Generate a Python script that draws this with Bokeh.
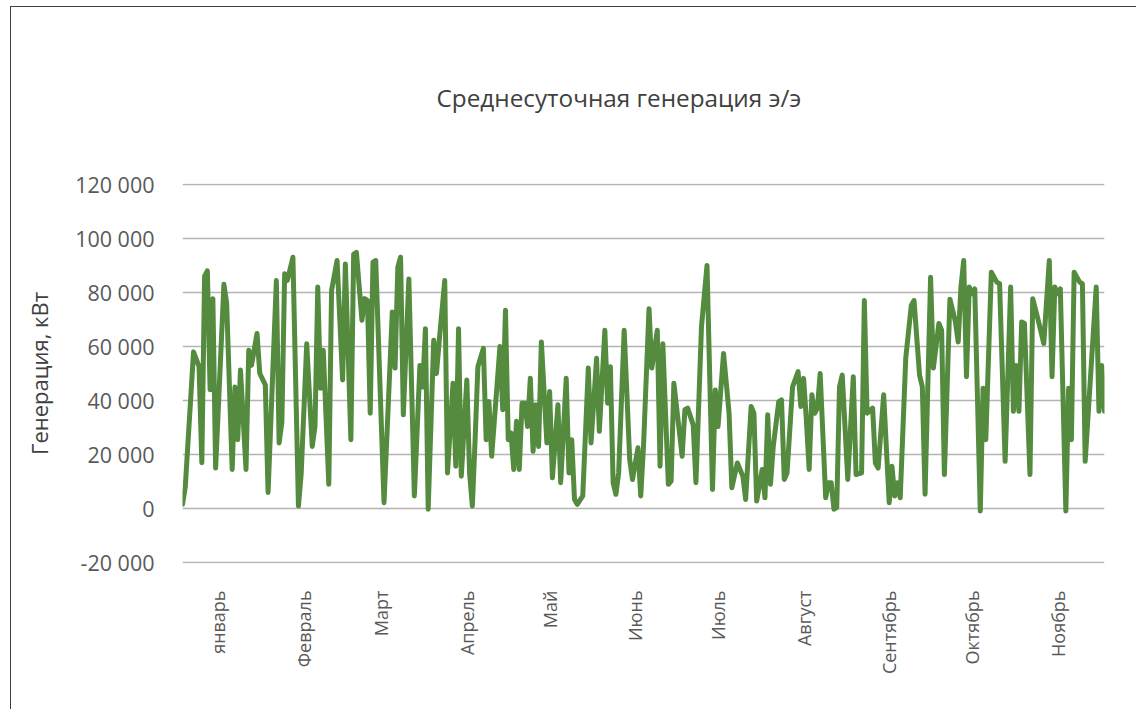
import math
from bokeh.plotting import figure
from bokeh.models import Range1d, FixedTicker, Title
from bokeh.embed import file_html
from bokeh.resources import INLINE

# Day index (0 = 1 January) and daily mean generation, kW
days = [0, 1, 4, 6, 7, 8, 9, 10, 11, 12, 15, 16, 18, 19, 20, 21, 23, 24, 25, 27, 28, 30, 31,
        34, 35, 36, 37, 38, 40, 42, 43, 45, 47, 48, 49, 50, 51, 53, 54, 56, 58, 59, 61, 62,
        63, 65, 66, 67, 68, 69, 70, 73, 76, 77, 78, 79, 80, 82, 84, 86, 87, 88, 89, 91, 92,
        93, 95, 96, 98, 99, 100, 101, 103, 104, 105, 106, 107, 109, 110, 111, 112, 115, 116,
        117, 118, 119, 120, 121, 122, 123, 124, 125, 126, 127, 128, 129, 130, 132, 133, 134,
        136, 137, 139, 140, 141, 142, 143, 145, 147, 148, 150, 151, 153, 154, 155, 156, 157,
        158, 160, 162, 163, 165, 166, 167, 169, 170, 172, 173, 174, 176, 177, 178, 181, 182,
        183, 185, 186, 188, 190, 192, 193, 194, 196, 198, 199, 201, 203, 204, 206, 207, 208,
        210, 211, 212, 213, 214, 216, 217, 218, 219, 221, 223, 224, 225, 226, 227, 228, 229,
        230, 231, 233, 234, 235, 236, 237, 238, 239, 241, 243, 244, 246, 247, 248, 250, 251,
        252, 254, 256, 257, 258, 259, 260, 262, 264, 265, 267, 268, 269, 271, 272, 274, 275,
        276, 278, 280, 281, 282, 283, 284, 285, 286, 287, 289, 290, 291, 293, 295, 296, 298,
        300, 301, 302, 303, 304, 305, 307, 308, 310, 312, 314, 315, 316, 317, 318, 320, 321,
        322, 323, 325, 326, 327, 331, 332, 333, 334]

generation = [1600, 8000, 58000, 52500, 17000, 86000, 88000, 44000, 77700, 15000, 83000, 76000,
              14500, 45000, 25500, 51300, 14500, 58600, 53000, 64800, 50000, 45800, 6000,
              84400, 24300, 32000, 86900, 84400, 93000, 1000, 13000, 61000, 23000, 30400, 82000,
              44500, 58600, 9000, 80700, 91800, 47600, 90500, 25500, 94200,
              94800, 69700, 77700, 77000, 35300, 91200, 91800, 2200, 72800, 52000, 89300, 93000,
              34700, 85000, 4700, 53000, 45000, 66600, -200, 62300, 50000,
              62000, 84400, 13200, 46400, 15700, 66600, 12000, 47600, 13200, 1000, 25500, 52500,
              59300, 25500, 39600, 19400, 60000, 36600,
              73400, 25500, 28000, 14500, 32300, 14500, 39000, 39000, 30400, 48200, 21200, 38400,
              23000, 61700, 24300, 43300, 11400,
              38400, 9600, 48200, 13200, 25500, 3400, 1600, 4700, 52000, 24300, 55600, 28600,
              66000, 39000, 52500, 9600, 5300,
              13200, 66000, 18200, 10800, 22500, 4700, 23000, 74000, 52000, 66000, 15700, 61000,
              9000, 10200, 46400, 19400, 36600,
              37200, 31000, 9600, 67200, 90000, 7100, 43900, 30400, 57400, 35300, 7700, 16900,
              12000, 3400, 37800, 35300, 2800,
              14500, 4000, 34700, 9000, 23000, 39600, 40200, 10800, 13200, 45100, 50700, 37800,
              48200, 32900, 14500, 42100, 35300,
              37200, 50000, 4000, 9600, 9600, -200, 400, 45100, 49400, 10800, 48800, 12600, 13200,
              77000, 35300, 37200, 16900,
              15000, 42100, 2200, 15700, 4700, 9600, 4000, 55600, 75200, 77000, 49400, 45100,
              5300, 85600, 52000, 68500, 66000,
              12600, 77500, 69100, 61700, 82000, 91800, 48800, 82000, 79500, 81300, -900, 44500,
              25500, 87500, 83800, 83200, 17500,
              82000, 36000, 53000, 36000, 69100, 68500, 12600, 77700, 69700, 61100, 91800, 48800,
              82000, 79500, 81300, -900, 44500,
              25500, 87500, 83800, 83200, 17500, 82000, 36000, 53000, 36000]

months = ["январь", "Февраль", "Март", "Апрель", "Май", "Июнь", "Июль", "Август",
          "Сентябрь", "Октябрь", "Ноябрь"]
month_lengths = [31, 28, 31, 30, 31, 30, 31, 31, 30, 31, 30]

y_ticks = [-20000, 0, 20000, 40000, 60000, 80000, 100000, 120000]
y_tick_labels = ["-20 000", "0", "20 000", "40 000", "60 000", "80 000", "100 000", "120 000"]

title_text = "Среднесуточная генерация э/э"
y_axis_title = "Генерация, кВт"

FONT = "Open Sans"

# mid-month tick positions
month_starts = [sum(month_lengths[:i]) for i in range(len(month_lengths))]
mid_month = [s + 13 for s in month_starts]

p = figure(width=1126, height=703, output_backend="svg", toolbar_location=None,
           x_range=Range1d(0, 334), y_range=Range1d(-20300, 120300),
           min_border_left=171, min_border_right=33, min_border_top=176, min_border_bottom=147,
           styles={"border-left": "1px solid #3f3f3f", "border-top": "1px solid #3f3f3f",
                   "margin-left": "10px", "margin-top": "6px"})
p.outline_line_color = None
p.background_fill_color = "white"
p.border_fill_color = "white"

t = Title(text=title_text, align="left", offset=254, text_font=FONT,
          text_font_size="24.3px", text_font_style="normal", text_color="#404040",
          standoff=140)
p.add_layout(t, "above")

p.line(days, generation, line_color="#548b3f", line_width=5, line_join="round",
       line_cap="round")

# y axis
p.yaxis.ticker = FixedTicker(ticks=y_ticks)
p.yaxis.major_label_overrides = {v: s for v, s in zip(y_ticks, y_tick_labels)}
p.yaxis.axis_line_color = None
p.yaxis.major_tick_line_color = None
p.yaxis.minor_tick_line_color = None
p.yaxis.major_label_standoff = 22
p.yaxis.major_label_text_font = FONT
p.yaxis.major_label_text_font_size = "21.5px"
p.yaxis.major_label_text_color = "#595959"
p.yaxis.axis_label = y_axis_title
p.yaxis.axis_label_text_font = FONT
p.yaxis.axis_label_text_font_size = "22px"
p.yaxis.axis_label_text_font_style = "normal"
p.yaxis.axis_label_text_color = "#404040"
p.yaxis.axis_label_standoff = 18

# x axis (below)
xax = p.below[0]
xax.ticker = FixedTicker(ticks=mid_month)
xax.major_label_overrides = {d: m for d, m in zip(mid_month, months)}
xax.major_label_orientation = math.pi / 2
xax.axis_line_color = None
xax.major_tick_line_color = None
xax.minor_tick_line_color = None
xax.major_label_standoff = 21
xax.major_label_text_font = FONT
xax.major_label_text_font_size = "18px"
xax.major_label_text_color = "#595959"

p.xgrid.grid_line_color = None
p.ygrid.grid_line_color = "#b4b4b4"
p.ygrid.grid_line_width = 1.5

open("out.html", "w").write(file_html(p, INLINE))
